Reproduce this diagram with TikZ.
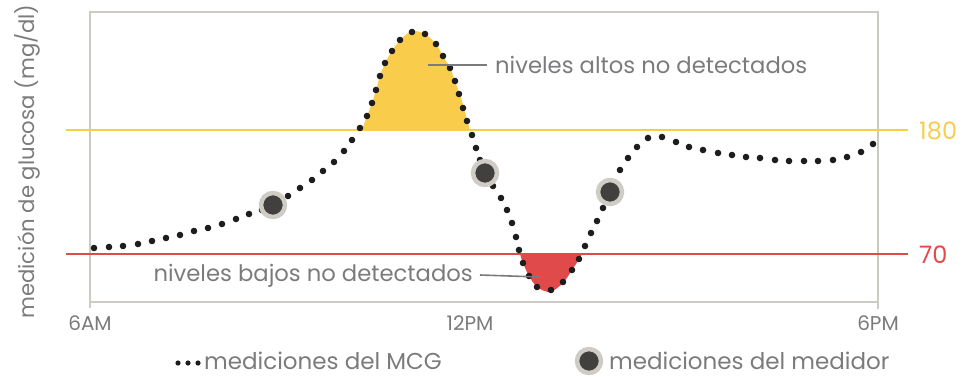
\documentclass[tikz,border=0pt]{standalone}
\usepackage{fontspec}
\setmainfont{Poppins}
\definecolor{frameg}{HTML}{CDC9C3}
\definecolor{txtg}{HTML}{7B7B7D}
\definecolor{hiY}{HTML}{F9CD4B}
\definecolor{loR}{HTML}{E04A4A}
\definecolor{dotc}{HTML}{1E1C1C}
\definecolor{mout}{HTML}{CFCCC5}
\definecolor{min}{HTML}{42403E}
\begin{document}
\begin{tikzpicture}[x=1pt,y=-1pt,
  lbl/.style={text=txtg,font=\fontsize{22.7}{26}\selectfont,inner sep=0pt},
  tick/.style={text=txtg,font=\fontsize{20}{24}\selectfont,inner sep=0pt},
  leg/.style={text=txtg,font=\fontsize{23}{26}\selectfont,inner sep=0pt},
  thr/.style={font=\fontsize{24}{28}\selectfont,inner sep=0pt,anchor=west},
  cgm/.style={fill=dotc},
  meter/.style={circle,fill=min,draw=mout,line width=4.5pt,minimum size=24pt,inner sep=0pt},
  pointer/.style={draw=txtg,line width=1.6pt},
  framel/.style={draw=frameg,line width=2pt}]
\useasboundingbox (0,0) rectangle (971,377);
% fills
\fill[hiY] plot[smooth] coordinates {(362,130) (367,116) (372,103) (376,90) (380,76) (385,63) (392,51) (400,40) (412,31) (425,34) (436,44) (443,56) (450,68) (455,81) (460,95) (464,108) (467,120) (470,130)} -- cycle;
\fill[loR] plot[smooth] coordinates {(520,254) (523,263) (529,276) (537,287) (550,292) (563,283) (572,270) (578,261) (582,254)} -- cycle;
% frame
\draw[framel] (90,12) rectangle (878,302);
\draw[framel] (90,302) -- (90,308);
\draw[framel] (878,302) -- (878,309);
% thresholds
\draw[hiY,line width=2pt] (66,130) -- (908,130);
\draw[loR,line width=2pt] (66,254) -- (908,254);
\node[thr,text=hiY] (t180) at (919,131) {180};
\node[thr,text=loR] (t70) at (919,255) {70};
% axis labels
\node[tick] (x6am) at (90,323) {6AM};
\node[tick] (x12pm) at (470,323) {12PM};
\node[tick] (x6pm) at (878,323) {6PM};
\node[text=txtg,font=\fontsize{21.2}{24}\selectfont,inner sep=0pt,rotate=90] (ylab) at (27,161.5) {medición de glucosa (mg/dl)};
% CGM dots
\foreach \p in {(94,248),(109,247),(123,246),(138,244),(152,241),(166,238),(180,235),(194,231),(208,228),(222,224),(236,219),(249,214),(262,210),
 (288,196),(300,188),(312,180),(323,171),(334,162),(344,151),(352,140),(360,128),(367,116),(372,103),(376,90),(380,76),(385,63),(392,51),(400,40),(412,32),(425,34),(436,44),(443,56),(450,68),(455,81),(459,94),(463,108),(467,121),(472,135),(476,148),(480,160),
 (493,186),(501,198),(507,210),(512,223),(516,237),(519,250),(523,263),(529,276),(537,287),(551,290),(563,282),(572,270),(579,259),(585,246),(591,233),(597,221),(603,208),
 (620,170),(628,158),(637,147),(648,138),(662,137),(676,142),(689,147),(703,150),(718,153),(732,155),(746,157),(760,158),(775,160),(789,161),(804,161),(818,161),(833,160),(847,157),(861,152),(873,144)}
 \fill[cgm] \p circle (3.3);
% meter readings
\node[meter] (m1) at (273,205) {};
\node[meter] (m2) at (485,173) {};
\node[meter] (m3) at (610,192) {};
% annotations
\node[lbl,anchor=west] (hi) at (495,65) {niveles altos no detectados};
\coordinate (hiend) at (428,65);
\draw[pointer] (hi.west) ++(-8,0) -- (hiend);
\node[lbl,anchor=east] (lo) at (473,276) {niveles bajos no detectados};
\coordinate (loend) at (540,277);
\draw[pointer] ([xshift=7pt,yshift=1pt]lo.east) -- (loend);
% legend
\foreach \xx in {178,188,198} \fill[cgm] (\xx,363) circle (2.6);
\node[leg,anchor=west] (l1) at (204,361) {mediciones del MCG};
\node[meter] (lm) at (589,361) {};
\node[leg,anchor=west] (l2) at (609,361) {mediciones del medidor};
\end{tikzpicture}
\end{document}
